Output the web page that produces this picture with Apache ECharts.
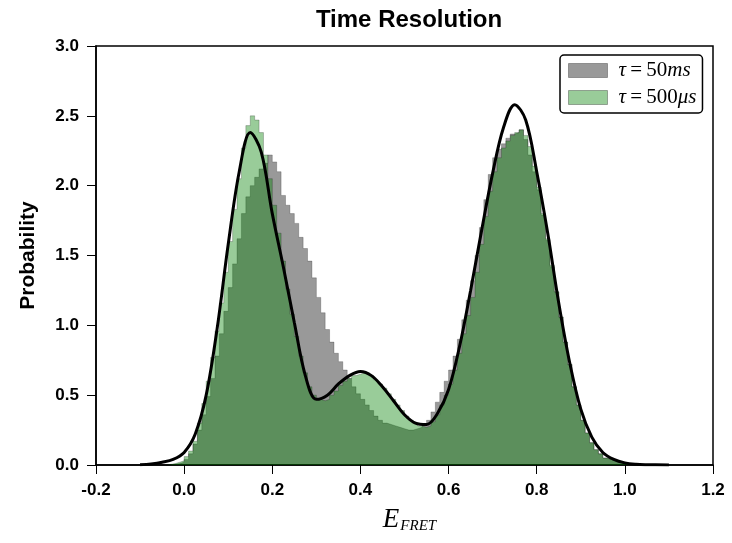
<!DOCTYPE html>
<html>
<head>
<meta charset="utf-8">
<script src="https://cdn.jsdelivr.net/npm/echarts@6/dist/echarts.min.js"></script>
<style>html,body{margin:0;padding:0;background:#fff;}#c{width:732px;height:543px;}</style>
</head>
<body>
<div id="c"></div>
<script>
// Histogram bins: left edge of first bin and bin width
var binStart = -0.04;
var binWidth = 0.01;
// tau = 50 ms (gray)
var gray50ms = [
0.0,0.005,0.01,0.02,0.04,0.08,0.15,0.25,0.36,0.49,
0.62,0.78,0.94,1.1,1.27,1.44,1.62,1.8,1.92,2.0,
2.06,2.12,2.16,2.22,2.17,2.1,1.93,1.86,1.8,1.73,
1.63,1.55,1.46,1.34,1.2,1.09,0.97,0.88,0.8,0.74,
0.68,0.62,0.56,0.51,0.47,0.43,0.39,0.35,0.32,0.3,
0.29,0.28,0.27,0.26,0.25,0.25,0.26,0.27,0.29,0.32,
0.38,0.45,0.52,0.6,0.68,0.78,0.9,1.04,1.18,1.32,
1.5,1.7,1.9,2.08,2.2,2.26,2.3,2.34,2.37,2.38,
2.4,2.33,2.22,2.1,1.97,1.79,1.61,1.42,1.24,1.06,
0.88,0.72,0.56,0.43,0.32,0.23,0.16,0.11,0.08,0.05,
0.04,0.03,0.02,0.01,0.01,0.005,0.003,0.0
];
// tau = 500 us (green)
var green500us = [
0.005,0.01,0.02,0.03,0.06,0.1,0.17,0.3,0.44,0.6,
0.77,0.96,1.16,1.38,1.6,1.83,2.05,2.27,2.43,2.5,
2.47,2.38,2.22,2.05,1.86,1.66,1.46,1.26,1.08,0.92,
0.78,0.66,0.56,0.5,0.47,0.46,0.47,0.5,0.53,0.57,
0.6,0.62,0.64,0.65,0.66,0.66,0.64,0.61,0.58,0.55,
0.51,0.47,0.43,0.39,0.35,0.32,0.3,0.28,0.27,0.28,
0.31,0.36,0.43,0.5,0.58,0.68,0.8,0.94,1.07,1.2,
1.38,1.58,1.78,1.96,2.1,2.2,2.27,2.32,2.36,2.38,
2.4,2.36,2.28,2.14,1.99,1.8,1.62,1.43,1.24,1.06,
0.88,0.72,0.56,0.43,0.32,0.23,0.16,0.11,0.08,0.05,
0.04,0.03,0.02,0.01,0.01,0.005,0.003,0.0
];
// fitted curve
var curveX = [-0.1,-0.075,-0.05,-0.025,0,0.025,0.05,0.075,0.1,0.125,0.15,0.175,0.2,0.225,0.25,0.275,0.3,0.325,0.35,0.375,0.4,0.425,0.45,0.475,0.5,0.525,0.55,0.575,0.6,0.625,0.65,0.675,0.7,0.725,0.75,0.775,0.8,0.825,0.85,0.875,0.9,0.925,0.95,0.975,1.0,1.025,1.05,1.1];
var curveY = [0.002,0.008,0.02,0.04,0.09,0.22,0.5,0.98,1.58,2.1,2.38,2.24,1.8,1.42,1.02,0.64,0.47,0.5,0.58,0.64,0.67,0.64,0.56,0.46,0.36,0.3,0.29,0.37,0.54,0.85,1.25,1.68,2.09,2.42,2.58,2.47,2.1,1.66,1.16,0.73,0.4,0.2,0.09,0.04,0.015,0.005,0.002,0.0];
var seriesNames = ['τ=50ms','τ=500μs'];

function histData(vals){
  var d = [[binStart, 0]];
  for (var i = 0; i < vals.length; i++) d.push([+(binStart + i*binWidth).toFixed(4), vals[i]]);
  d.push([+(binStart + vals.length*binWidth).toFixed(4), 0]);
  return d;
}
var curveData = curveX.map(function(x,i){return [x, curveY[i]];});

var chart = echarts.init(document.getElementById('c'));
var serif = 'Liberation Serif';
var sans = 'Liberation Sans';
chart.setOption({
  animation: false,
  backgroundColor: '#fff',
  title: {text: 'Time Resolution', left: 404, textAlign: 'center', top: 3,
    textStyle: {fontFamily: sans, fontSize: 24, fontWeight: 'bold', color: '#000'}},
  grid: {left: 96, right: 19, top: 46, bottom: 78, show: true, borderColor: '#000', borderWidth: 1.5, backgroundColor: 'transparent'},
  legend: {
    orient: 'vertical', left: 560, top: 55,
    padding: [5, 6, 5, 8], itemGap: 6, itemWidth: 39, itemHeight: 14,
    borderColor: '#000', borderWidth: 1.5, borderRadius: 4, backgroundColor: '#fff',
    icon: 'rect',
    data: [
      {name: seriesNames[0], itemStyle: {color: 'rgba(0,0,0,0.4)', borderColor: 'rgba(0,0,0,0.3)', borderWidth: 1}},
      {name: seriesNames[1], itemStyle: {color: 'rgba(0,128,0,0.4)', borderColor: 'rgba(0,0,0,0.3)', borderWidth: 1}}
    ],
    formatter: function(n){
      if (n === seriesNames[0]) return '{i|τ}{n|\u2009=\u200950}{i|ms}';
      return '{i|τ}{n|\u2009=\u2009500}{i|μs}';
    },
    textStyle: {color: '#000', padding: [0,0,0,6], rich: {
      i: {fontFamily: serif, fontStyle: 'italic', fontSize: 21, lineHeight: 20, color: '#000'},
      n: {fontFamily: serif, fontSize: 21, lineHeight: 20, color: '#000'}
    }}
  },
  xAxis: {
    type: 'value', min: -0.2, max: 1.2, interval: 0.2,
    name: '{e|E}{s|FRET}', nameLocation: 'middle', nameGap: 40,
    nameTextStyle: {rich: {
      e: {fontFamily: serif, fontStyle: 'italic', fontSize: 27, color: '#000', padding: [0,0,0,10]},
      s: {fontFamily: serif, fontStyle: 'italic', fontSize: 15, color: '#000', padding: [14,0,0,1]}
    }},
    axisLine: {show: true, onZero: false, lineStyle: {color: '#000', width: 1.5}},
    axisTick: {show: true, inside: false, length: 9, lineStyle: {color: '#000', width: 1}},
    axisLabel: {margin: 17, fontFamily: sans, fontSize: 17, fontWeight: 'bold', color: '#000',
      formatter: function(v){ return v.toFixed(1); }},
    splitLine: {show: false}
  },
  yAxis: {
    type: 'value', min: 0, max: 3, interval: 0.5,
    name: 'Probability', nameLocation: 'middle', nameGap: 57, nameRotate: 90,
    nameTextStyle: {fontFamily: sans, fontSize: 21, fontWeight: 'bold', color: '#000'},
    axisLine: {show: true, onZero: false, lineStyle: {color: '#000', width: 1.5}},
    axisTick: {show: true, inside: false, length: 9, lineStyle: {color: '#000', width: 1}},
    axisLabel: {margin: 17, fontFamily: sans, fontSize: 17, fontWeight: 'bold', color: '#000',
      formatter: function(v){ return v.toFixed(1); }},
    splitLine: {show: false}
  },
  series: [
    {name: seriesNames[0], type: 'line', step: 'end', data: histData(gray50ms), symbol: 'none',
     itemStyle: {color: 'rgba(0,0,0,0.4)'},
     lineStyle: {color: 'rgba(0,0,0,0.22)', width: 1},
     areaStyle: {color: 'rgba(0,0,0,0.4)', opacity: 1, origin: 'start'}, z: 2},
    {name: seriesNames[1], type: 'line', step: 'end', data: histData(green500us), symbol: 'none',
     itemStyle: {color: 'rgba(0,128,0,0.4)'},
     lineStyle: {color: 'rgba(0,0,0,0.22)', width: 1},
     areaStyle: {color: 'rgba(0,128,0,0.4)', opacity: 1, origin: 'start'}, z: 3},
    {name: 'fit', type: 'line', data: curveData, symbol: 'none', smooth: 0.35,
     lineStyle: {color: '#000', width: 3}, z: 5}
  ]
});
</script>
</body>
</html>
